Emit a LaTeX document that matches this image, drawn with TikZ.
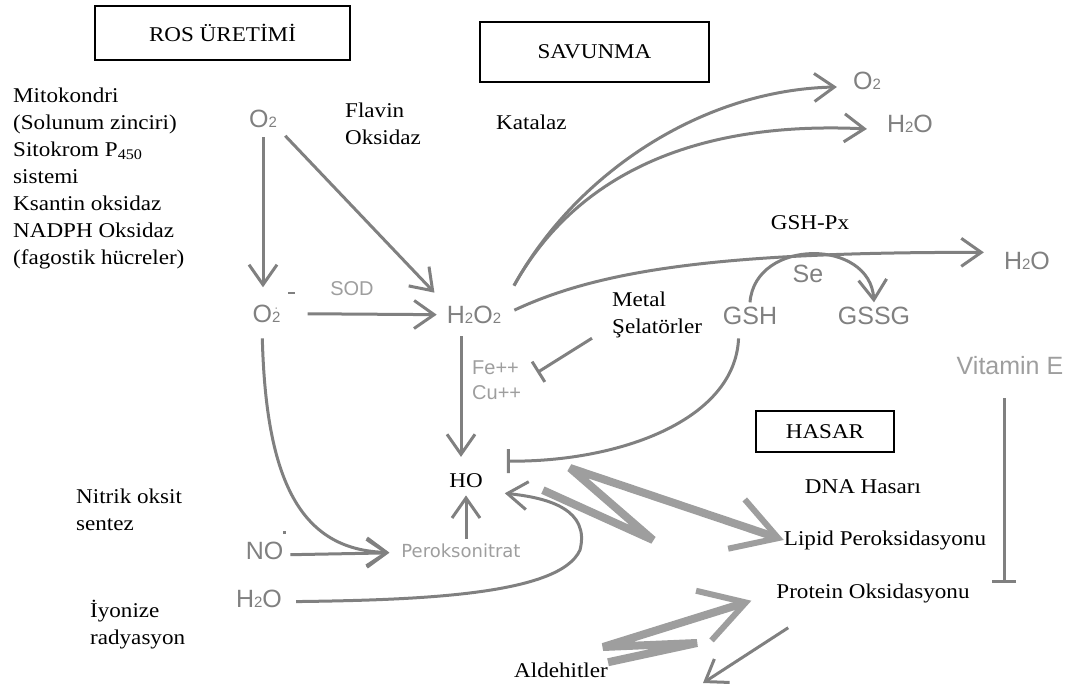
\documentclass[tikz,border=0pt]{standalone}
\usepackage{fontspec}
\setmainfont{Liberation Serif}[FakeStretch=1.1]
\newfontfamily\chemfont{Liberation Sans}
\newfontfamily\dvfont{DejaVu Sans}
\usetikzlibrary{arrows.meta}
\definecolor{arrgray}{RGB}{128,128,128}
\definecolor{chemgray}{RGB}{128,128,128}
\definecolor{palegray}{RGB}{158,158,158}
\definecolor{boltgray}{RGB}{158,158,158}
\newcommand{\dn}[1]{{\fontsize{15}{15}\selectfont #1}}
\tikzset{
  titlebox/.style={draw, line width=1.6pt, font=\fontsize{21}{21}\selectfont},
  lbl/.style={font=\fontsize{21}{27}\selectfont, align=left, inner sep=0pt},
  chem/.style={font=\chemfont\fontsize{25}{25}\selectfont, text=chemgray, inner sep=4pt},
  arr/.style={draw=arrgray, line width=3pt, -{Straight Barb[length=20pt,width=28pt]}},
  inh/.style={draw=arrgray, line width=3pt, -{Bar[width=24pt]}},
  bolt/.style={draw=boltgray, line width=8pt, line join=bevel, -{Straight Barb[length=44pt,width=52pt,line width=6pt]}}
}
\begin{document}
\begin{tikzpicture}[x=1pt,y=-1pt]
\useasboundingbox (0,0) rectangle (1077,685);

% boxes
\node[titlebox, minimum width=255pt, minimum height=54pt] (rosbox) at (222.5,33) {ROS ÜRETİMİ\hspace{14pt}};
\node[titlebox, minimum width=229pt, minimum height=60pt] (savbox) at (594.5,52) {SAVUNMA};
\node[titlebox, minimum width=138pt, minimum height=41pt] (hasbox) at (825,431.5) {HASAR\hspace{8pt}};

% sources
\node[lbl, anchor=west] (mito) at (13,178) {Mitokondri\\(Solunum zinciri)\\Sitokrom P\textsubscript{450}\\sistemi\\Ksantin oksidaz\\NADPH Oksidaz\\(fagostik hücreler)};
\node[lbl, anchor=west] (flavin) at (345,124) {Flavin\\Oksidaz};
\node[lbl, anchor=base west] (katalaz) at (496,129) {Katalaz};
\node[lbl, anchor=base] (gshpx) at (810,229) {GSH-Px};
\node[lbl, anchor=west] (metal) at (612,315) {Metal\\Şelatörler};
\node[lbl, anchor=west] (nitrik) at (76,510) {Nitrik oksit\\sentez};
\node[lbl, anchor=west] (iyonize) at (90,625) {İyonize\\radyasyon};
\node[lbl, anchor=base, inner sep=4pt] (ho) at (466,487) {HO};
\node[lbl, anchor=base] (dna) at (863,493) {DNA Hasarı};
\node[lbl, anchor=base] (lipid) at (885,545) {Lipid Peroksidasyonu};
\node[lbl, anchor=base] (protein) at (873,598) {Protein Oksidasyonu};
\node[lbl, anchor=base] (aldehit) at (561,677) {Aldehitler};

% species
\node[chem, anchor=base] (o2top) at (263,127) {O\dn{2}};
\node[chem, anchor=base] (o2rad) at (274,322) {O\dn{$\dot{\mbox{2}}$}\hspace{8pt}\raisebox{28pt}{\rule{7pt}{2.5pt}}};
\node[chem, anchor=base, font=\chemfont\fontsize{20}{20}\selectfont, text=palegray] (sod) at (352,295) {SOD};
\node[chem, anchor=base] (h2o2) at (474,323) {H\dn{2}O\dn{2}};
\node[chem, anchor=west, align=left, font=\chemfont\fontsize{20}{25}\selectfont, text=palegray] (fecu) at (468,380) {Fe++\\Cu++};
\node[chem, anchor=base, font=\dvfont\fontsize{18}{18}\selectfont, text=palegray] (peroks) at (461,557) {Peroksonitrat};
\node[chem, anchor=base, font=\chemfont\fontsize{25}{25}\selectfont] (no) at (266,559) {NO\raisebox{25pt}{\rule{3pt}{3pt}}};
\node[chem, anchor=base] (h2obot) at (259,607) {H\dn{2}O};
\node[chem, anchor=base] (o2r) at (867,89) {O\dn{2}};
\node[chem, anchor=base] (h2oa) at (910,132) {H\dn{2}O};
\node[chem, anchor=base] (h2ob) at (1027,269) {H\dn{2}O};
\node[chem, anchor=base] (se) at (808,282) {Se};
\node[chem, anchor=base] (gsh) at (750,324) {GSH};
\node[chem, anchor=base] (gssg) at (874,324) {GSSG};
\node[chem, anchor=base, text=palegray] (vite) at (1010,374) {Vitamin E};

\coordinate (hobar) at ([shift={(20,-19)}]ho.east);
\coordinate (z1b) at (653,540);
\coordinate (z1c) at (570,468);
\coordinate (z2b) at (697,643);
\coordinate (z2c) at (603,647);
\coordinate (protout) at (703,683);

% damage bolts
\draw[bolt] ([shift={(56,10)}]ho.east) -- (z1b) -- (z1c) -- (lipid.west);
\draw[bolt, shorten >=26pt] (aldehit.north east) -- (z2b) -- (z2c) -- (protein.west);

% production
\draw[arr, shorten <=6pt] (o2top.south) -- (o2top.south |- o2rad.north);
\draw[arr, shorten <=6pt, shorten >=12pt] (o2top.south east) -- (h2o2.north west);
\draw[arr, shorten <=8pt, shorten >=6pt] ([yshift=6pt]o2rad.mid east) -- ([yshift=6pt]h2o2.mid west);
\draw[arr, shorten <=9pt, shorten >=12pt] ([xshift=-13pt]h2o2.south) -- ([xshift=-13pt]h2o2.south |- ho.north);
\draw[arr, shorten >=4pt] (ho.south |- peroks.north) -- (ho.south);
\draw[arr, shorten >=8pt] ([yshift=2pt]no.mid east) -- ([yshift=2pt]peroks.mid west);
\draw[arr, shorten <=12pt, shorten >=8pt] ([xshift=-12pt]o2rad.south) .. controls (266,480) and (300,550) .. ([yshift=2pt]peroks.mid west);
\draw[arr, shorten <=10pt, shorten >=18pt] ([yshift=3pt]h2obot.mid east) .. controls (420,600) and (560,595) .. (580,550) .. controls (590,510) and (550,498) .. (ho.south east);

% defence
\draw[arr, shorten <=18pt, shorten >=12pt] (h2o2.north east) .. controls (575,175) and (700,90) .. (o2r.mid west);
\draw[arr, shorten <=18pt, shorten >=16pt] (h2o2.north east) .. controls (570,185) and (680,120) .. (h2oa.mid west);
\draw[arr, shorten <=10pt, shorten >=16pt] (h2o2.east) .. controls (600,270) and (720,252) .. ([yshift=8pt]h2ob.west);
\draw[arr] (gsh.north) .. controls (755,238) and (870,238) .. (gssg.north);
\draw[inh, shorten <=10pt] ([xshift=-11pt]gsh.south) .. controls (735,420) and (620,462) .. (hobar);
\draw[inh, shorten >=14pt] ([xshift=-20pt]metal.south west) -- (fecu.east);
\draw[inh, shorten <=20pt] ([xshift=-6pt]vite.south) -- ([xshift=-6pt]vite.south |- protein.north);
\draw[arr] ([shift={(12,25)}]protein.south west) -- (protout);
\end{tikzpicture}
\end{document}
